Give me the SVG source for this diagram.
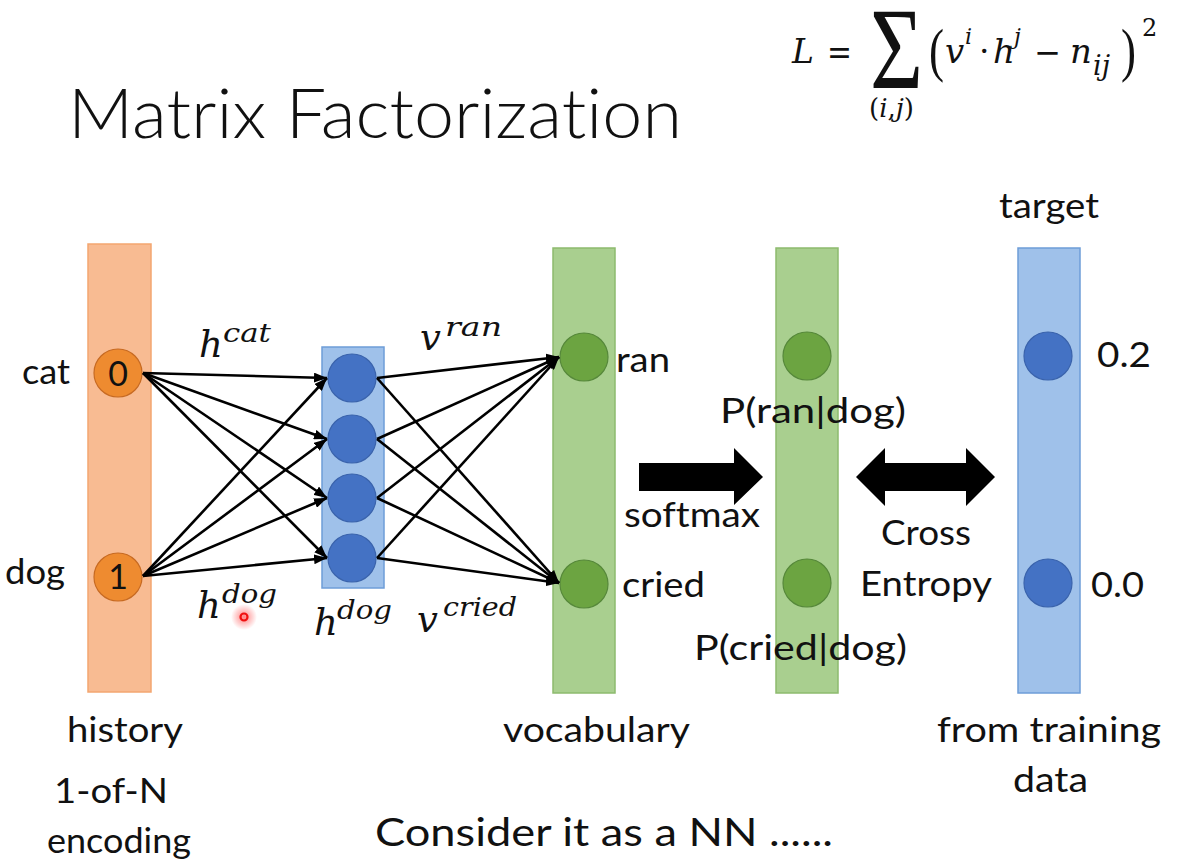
<svg xmlns="http://www.w3.org/2000/svg" width="1202" height="866" viewBox="0 0 1202 866">
  <style>
    .lbl { font-family: "Lato", "Liberation Sans", sans-serif; font-size: 34px; fill: #111; font-variant-ligatures: none; }
    .big { font-size: 38px; }
    .title { font-family: "Lato", "Liberation Sans", sans-serif; font-weight: 300; font-size: 68px; fill: #111; font-variant-ligatures: none; }
    .math { font-family: "DejaVu Serif", "Liberation Serif", serif; font-style: italic; fill: #111; }
    .up { font-family: "DejaVu Serif", "Liberation Serif", serif; fill: #111; }
    .sig { font-family: "Liberation Serif", "DejaVu Serif", serif; fill: #111; }
    .edge { stroke: #000; stroke-width: 2.6; fill: none; marker-end: url(#ah); }
    .bar-orange { fill: #F8BB92; stroke: #F3A670; stroke-width: 1.5; }
    .bar-blue { fill: #9FC1EA; stroke: #6E9DD8; stroke-width: 1.5; }
    .bar-green { fill: #A9CF8F; stroke: #8DBB6E; stroke-width: 1.5; }
    .n-orange { fill: #EE8B30; stroke: #C76A22; stroke-width: 1.2; }
    .n-blue { fill: #4472C4; stroke: #3A63AC; stroke-width: 1.2; }
    .n-green { fill: #6CA441; stroke: #56883A; stroke-width: 1.2; }
    .fat { fill: #000; }
  </style>
  <defs>
    <marker id="ah" markerWidth="13" markerHeight="10" refX="13" refY="5" orient="auto" markerUnits="userSpaceOnUse">
      <path d="M0,0 L13,5 L0,10 z" fill="#000"/>
    </marker>
    <radialGradient id="glow">
      <stop offset="0" stop-color="#ff2020" stop-opacity="0.55"/>
      <stop offset="1" stop-color="#ff2020" stop-opacity="0"/>
    </radialGradient>
  </defs>

  <rect width="1202" height="866" fill="#fff"/>

  <!-- title -->
  <text class="title" x="68" y="138" textLength="614" lengthAdjust="spacingAndGlyphs">Matrix Factorization</text>

  <!-- loss formula -->
  <g id="formula">
    <text class="math" x="792" y="63" font-size="33">L</text>
    <text class="up" x="827" y="64" font-size="36" textLength="25" lengthAdjust="spacingAndGlyphs">=</text>
    <text class="sig" x="870" y="88" font-size="116" textLength="53" lengthAdjust="spacingAndGlyphs">Σ</text>
    <text class="up" x="869" y="117" font-size="26">(<tspan class="math">i</tspan>,<tspan class="math">j</tspan>)</text>
    <text class="sig" x="929" y="70" font-size="60" textLength="15" lengthAdjust="spacingAndGlyphs">(</text>
    <text class="math" x="945" y="63" font-size="34">v</text>
    <text class="math" x="965" y="44" font-size="22">i</text>
    <text class="up" x="979" y="63" font-size="33">·</text>
    <text class="math" x="993" y="63" font-size="34">h</text>
    <text class="math" x="1014" y="44" font-size="22">j</text>
    <text class="up" x="1034" y="64" font-size="34" textLength="27" lengthAdjust="spacingAndGlyphs">−</text>
    <text class="math" x="1070" y="63" font-size="34">n</text>
    <text class="math" x="1093" y="75" font-size="27">ij</text>
    <text class="sig" x="1121" y="70" font-size="60" textLength="15" lengthAdjust="spacingAndGlyphs">)</text>
    <text class="up" x="1142" y="36" font-size="24">2</text>
  </g>

  <!-- input layer: 1-of-N history -->
  <g id="history">
    <rect class="bar-orange" x="88" y="244" width="63" height="448"/>
    <circle class="n-orange" cx="118" cy="373" r="24"/>
    <text class="lbl" x="118" y="386" text-anchor="middle">0</text>
    <circle class="n-orange" cx="118" cy="577" r="24"/>
    <text class="lbl" x="118" y="589" text-anchor="middle">1</text>
    <text class="lbl" x="22" y="384" textLength="48" lengthAdjust="spacingAndGlyphs">cat</text>
    <text class="lbl" x="5" y="584" textLength="60" lengthAdjust="spacingAndGlyphs">dog</text>
    <text class="lbl" x="67" y="742" textLength="116" lengthAdjust="spacingAndGlyphs">history</text>
    <text class="lbl" x="54" y="803" textLength="114" lengthAdjust="spacingAndGlyphs">1-of-N</text>
    <text class="lbl" x="47" y="853" textLength="144" lengthAdjust="spacingAndGlyphs">encoding</text>
  </g>

  <!-- hidden layer h^dog -->
  <g id="hidden">
    <rect class="bar-blue" x="322" y="347" width="62" height="241"/>
    <circle class="n-blue" cx="352" cy="378" r="24"/>
    <circle class="n-blue" cx="352" cy="439" r="24"/>
    <circle class="n-blue" cx="352" cy="498" r="24"/>
    <circle class="n-blue" cx="352" cy="558" r="24"/>
  </g>

  <!-- vocabulary layer -->
  <g id="vocabulary">
    <rect class="bar-green" x="553" y="248" width="62" height="445"/>
    <circle class="n-green" cx="584" cy="357" r="24"/>
    <circle class="n-green" cx="584" cy="584" r="24"/>
    <text class="lbl" x="616" y="372" textLength="54" lengthAdjust="spacingAndGlyphs">ran</text>
    <text class="lbl" x="622" y="597" textLength="83" lengthAdjust="spacingAndGlyphs">cried</text>
    <text class="lbl" x="503" y="742" textLength="187" lengthAdjust="spacingAndGlyphs">vocabulary</text>
  </g>

  <!-- softmax output -->
  <g id="softmax-out">
    <rect class="bar-green" x="776" y="248" width="62" height="445"/>
    <circle class="n-green" cx="807" cy="356" r="24"/>
    <circle class="n-green" cx="807" cy="583" r="24"/>
    <text class="lbl" x="720" y="423" textLength="186" lengthAdjust="spacingAndGlyphs">P(ran|dog)</text>
    <text class="lbl" x="694" y="660" textLength="213" lengthAdjust="spacingAndGlyphs">P(cried|dog)</text>
  </g>

  <!-- target from training data -->
  <g id="target">
    <rect class="bar-blue" x="1018" y="248" width="62" height="445"/>
    <circle class="n-blue" cx="1048" cy="356" r="24"/>
    <circle class="n-blue" cx="1048" cy="583" r="24"/>
    <text class="lbl" x="999" y="218" textLength="100" lengthAdjust="spacingAndGlyphs">target</text>
    <text class="lbl" x="1097" y="367" textLength="54" lengthAdjust="spacingAndGlyphs">0.2</text>
    <text class="lbl" x="1091" y="597" textLength="53" lengthAdjust="spacingAndGlyphs">0.0</text>
    <text class="lbl" x="937" y="742" textLength="224" lengthAdjust="spacingAndGlyphs">from training</text>
    <text class="lbl" x="1013" y="792" textLength="75" lengthAdjust="spacingAndGlyphs">data</text>
  </g>

  <!-- weight connections -->
  <g id="connectors">
    <line class="edge" x1="143" y1="373" x2="327" y2="378"/>
    <line class="edge" x1="143" y1="373" x2="327" y2="439"/>
    <line class="edge" x1="143" y1="373" x2="327" y2="498"/>
    <line class="edge" x1="143" y1="373" x2="327" y2="558"/>
    <line class="edge" x1="143" y1="576" x2="327" y2="378"/>
    <line class="edge" x1="143" y1="576" x2="327" y2="439"/>
    <line class="edge" x1="143" y1="576" x2="327" y2="498"/>
    <line class="edge" x1="143" y1="576" x2="327" y2="558"/>

    <line class="edge" x1="377" y1="378" x2="559" y2="357"/>
    <line class="edge" x1="377" y1="439" x2="559" y2="357"/>
    <line class="edge" x1="377" y1="498" x2="559" y2="357"/>
    <line class="edge" x1="377" y1="558" x2="559" y2="357"/>
    <line class="edge" x1="377" y1="378" x2="559" y2="583"/>
    <line class="edge" x1="377" y1="439" x2="559" y2="583"/>
    <line class="edge" x1="377" y1="498" x2="559" y2="583"/>
    <line class="edge" x1="377" y1="558" x2="559" y2="583"/>

    <!-- block arrows -->
    <polygon class="fat" points="639,463 734,463 734,448 763,477 734,505 734,491 639,491"/>
    <polygon class="fat" points="856,477 885,448 885,463 966,463 966,448 995,477 966,506 966,491 885,491 885,506"/>
  </g>

  <!-- connection labels -->
  <g id="edge-labels">
    <text class="math" x="199" y="357" font-size="37">h</text>
    <text class="math" x="223" y="342" font-size="26" textLength="48" lengthAdjust="spacingAndGlyphs">cat</text>
    <text class="math" x="197" y="618" font-size="37">h</text>
    <text class="math" x="222" y="603" font-size="26" textLength="55" lengthAdjust="spacingAndGlyphs">dog</text>
    <text class="math" x="314" y="635" font-size="37">h</text>
    <text class="math" x="337" y="619" font-size="26" textLength="55" lengthAdjust="spacingAndGlyphs">dog</text>
    <text class="math" x="420" y="350" font-size="37">v</text>
    <text class="math" x="445" y="336" font-size="26" textLength="57" lengthAdjust="spacingAndGlyphs">ran</text>
    <text class="math" x="417" y="632" font-size="37">v</text>
    <text class="math" x="443" y="616" font-size="26" textLength="74" lengthAdjust="spacingAndGlyphs">cried</text>
    <text class="lbl" x="624" y="527" textLength="136" lengthAdjust="spacingAndGlyphs">softmax</text>
    <text class="lbl" x="881" y="545" textLength="90" lengthAdjust="spacingAndGlyphs">Cross</text>
    <text class="lbl" x="860" y="596" textLength="132" lengthAdjust="spacingAndGlyphs">Entropy</text>
  </g>

  <!-- pointer mark -->
  <g id="pointer">
    <circle cx="244" cy="617" r="13" fill="url(#glow)"/>
    <circle cx="244" cy="617" r="3.5" fill="none" stroke="#f01010" stroke-width="2.2"/>
  </g>

  <text class="lbl big" x="375" y="846" textLength="458" lengthAdjust="spacingAndGlyphs">Consider it as a NN ......</text>
</svg>
